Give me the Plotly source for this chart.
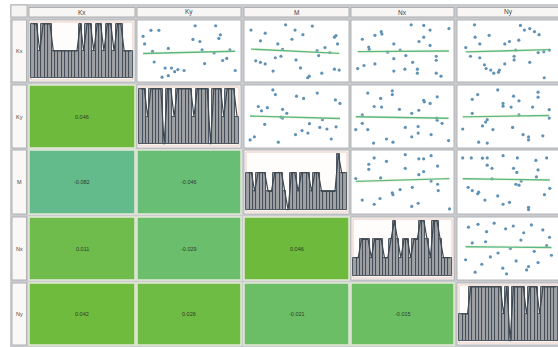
import numpy as np
import plotly.graph_objects as go
from plotly.colors import sample_colorscale

W, H = 558, 347

VARS = ["Kx", "Ky", "M", "Nx", "Ny"]

# histogram counts per bin (30 bins) for each variable
HIST_KX = [2, 2, 1, 2, 2, 2, 1, 1, 1, 1, 1, 1, 1, 1, 2, 1, 2, 2, 1, 2, 2, 1, 2, 2, 1, 2, 2, 1, 1, 1]
HIST_KY = [2, 2, 1, 2, 2, 2, 2, 0, 2, 2, 1, 2, 2, 2, 2, 2, 1, 2, 2, 2, 2, 0, 2, 2, 2, 1, 2, 2, 2, 1]
HIST_M = [2, 2, 1, 2, 2, 2, 1, 1, 2, 2, 2, 1, 0, 2, 2, 1, 2, 2, 2, 1, 2, 2, 1, 1, 1, 1, 1, 3, 2, 2]
HIST_NX = [1, 1, 2, 2, 2, 1, 2, 2, 2, 1, 1, 2, 3, 2, 1, 2, 2, 1, 2, 2, 3, 3, 2, 1, 3, 3, 2, 1, 1, 1]
HIST_NY = [1, 1, 1, 2, 2, 2, 2, 2, 2, 2, 2, 2, 2, 1, 2, 0, 2, 2, 2, 2, 1, 2, 2, 2, 1, 2, 2, 2, 2, 2]

# pairwise correlations (lower triangle)
CORR_KY_KX = 0.046
CORR_M_KX = -0.082
CORR_M_KY = -0.046
CORR_NX_KX = 0.011
CORR_NX_KY = -0.029
CORR_NX_M = 0.046
CORR_NY_KX = 0.042
CORR_NY_KY = 0.026
CORR_NY_M = -0.021
CORR_NY_NX = -0.015

# scatter samples (scaled 0..1) for upper panels: row variable vs column variable
KX_KY_X = [0.023, 0.105, 0.187, 0.039, 0.285, 0.138, 0.252, 0.318, 0.351, 0.384, 0.449, 0.285, 0.220, 0.564,
           0.541, 0.613, 0.636, 0.662, 0.777, 0.826, 0.810, 0.761, 0.849, 0.892, 0.980, 0.925, 0.121]
KX_KY_Y = [0.765, 0.874, 0.874, 0.628, 0.546, 0.301, 0.191, 0.191, 0.126, 0.164, 0.148, 0.055, 0.027, 0.956,
           0.710, 0.672, 0.519, 0.273, 0.956, 0.792, 0.727, 0.464, 0.328, 0.366, 0.148, 0.519, 0.492]

KX_M_X = [0.032, 0.178, 0.129, 0.081, 0.129, 0.178, 0.308, 0.388, 0.485, 0.566, 0.663, 0.453, 0.356, 0.282, 0.340,
          0.495, 0.541, 0.631, 0.615, 0.760, 0.259, 0.712, 0.728, 0.793, 0.842, 0.890, 0.906, 0.922, 0.890, 0.939]
KX_M_Y = [0.878, 0.822, 0.683, 0.322, 0.295, 0.267, 0.628, 0.972, 0.878, 0.795, 0.950, 0.712, 0.528, 0.378, 0.405,
          0.338, 0.195, 0.045, 0.017, 0.100, 0.138, 0.505, 0.417, 0.562, 0.472, 0.750, 0.778, 0.628, 0.172, 0.155]

KX_NX_X = [0.079, 0.211, 0.277, 0.284, 0.146, 0.151, 0.344, 0.409, 0.475, 0.591, 0.723, 0.789, 0.987, 0.723, 0.673,
           0.789, 0.535, 0.409, 0.854, 0.854, 0.607, 0.030, 0.096, 0.211, 0.409, 0.525, 0.656, 0.656, 0.854, 0.904]
KX_NX_Y = [0.712, 0.783, 0.850, 0.805, 0.572, 0.528, 0.478, 0.628, 0.517, 0.972, 0.962, 0.878, 0.905, 0.750, 0.672,
           0.600, 0.417, 0.362, 0.405, 0.333, 0.295, 0.183, 0.238, 0.267, 0.138, 0.172, 0.172, 0.100, 0.100, 0.045]

KX_NY_X = [0.144, 0.052, 0.150, 0.199, 0.297, 0.101, 0.199, 0.248, 0.265, 0.314, 0.346, 0.405, 0.395, 0.461, 0.559,
           0.559, 0.461, 0.510, 0.608, 0.625, 0.667, 0.723, 0.772, 0.821, 0.723, 0.811, 0.870, 0.875, 0.928, 0.575]
KX_NY_Y = [0.972, 0.562, 0.750, 0.628, 0.783, 0.405, 0.378, 0.250, 0.183, 0.155, 0.100, 0.155, 0.117, 0.267, 0.405,
           0.338, 0.628, 0.672, 0.695, 0.962, 0.878, 0.905, 0.850, 0.795, 0.295, 0.472, 0.488, 0.017, 0.517, 0.517]

KY_M_X = [0.257, 0.283, 0.500, 0.573, 0.713, 0.900, 0.947, 0.107, 0.140, 0.200, 0.357, 0.400, 0.173, 0.357,
          0.633, 0.740, 0.813, 0.907, 0.490, 0.557, 0.617, 0.023, 0.067, 0.313, 0.857, 0.767, 0.340]
KY_M_Y = [0.972, 0.889, 0.861, 0.822, 0.917, 0.794, 0.733, 0.678, 0.600, 0.656, 0.628, 0.556, 0.361, 0.472,
          0.372, 0.306, 0.278, 0.317, 0.178, 0.250, 0.206, 0.083, 0.139, 0.044, 0.100, 0.444, 0.489]

KY_NX_X = [0.136, 0.271, 0.393, 0.393, 0.203, 0.281, 0.722, 0.729, 0.790, 0.864, 0.468, 0.597, 0.671, 0.078, 0.078,
           0.010, 0.136, 0.332, 0.400, 0.529, 0.664, 0.664, 0.597, 0.800, 0.858, 0.864, 0.915, 0.983, 0.197]
KY_NX_Y = [0.917, 0.822, 0.956, 0.889, 0.678, 0.667, 0.789, 0.761, 0.733, 0.850, 0.628, 0.556, 0.611, 0.528, 0.378,
           0.267, 0.267, 0.100, 0.044, 0.306, 0.322, 0.206, 0.139, 0.178, 0.472, 0.433, 0.378, 0.072, 0.028]

KY_NY_X = [0.177, 0.120, 0.387, 0.553, 0.610, 0.810, 0.810, 0.443, 0.443, 0.527, 0.753, 0.927, 0.120, 0.277,
           0.260, 0.227, 0.337, 0.610, 0.543, 0.020, 0.653, 0.710, 0.710, 0.860, 0.187, 0.277, 0.927]
KY_NY_Y = [0.889, 0.806, 0.972, 0.861, 0.778, 0.933, 0.844, 0.733, 0.683, 0.667, 0.667, 0.622, 0.556, 0.444,
           0.400, 0.333, 0.267, 0.528, 0.306, 0.278, 0.178, 0.139, 0.083, 0.156, 0.044, 0.028, 0.472]

M_NX_X = [0.203, 0.332, 0.529, 0.671, 0.722, 0.800, 0.146, 0.146, 0.529, 0.722, 0.868, 0.010, 0.271, 0.671,
          0.800, 0.868, 0.603, 0.475, 0.393, 0.400, 0.078, 0.203, 0.264, 0.597, 0.664, 0.993, 0.875]
M_NX_Y = [0.922, 0.861, 0.978, 0.906, 0.906, 0.961, 0.811, 0.722, 0.739, 0.683, 0.778, 0.561, 0.572, 0.628,
          0.517, 0.461, 0.406, 0.367, 0.311, 0.278, 0.183, 0.111, 0.211, 0.072, 0.128, 0.028, 0.350]

M_NY_X = [0.020, 0.110, 0.227, 0.277, 0.443, 0.593, 0.787, 0.900, 0.277, 0.327, 0.553, 0.587, 0.810, 0.327, 0.793,
          0.633, 0.577, 0.610, 0.077, 0.120, 0.177, 0.187, 0.253, 0.387, 0.443, 0.510, 0.710, 0.710, 0.933, 0.877]
M_NY_Y = [0.922, 0.922, 0.917, 0.922, 0.961, 0.922, 0.878, 0.922, 0.794, 0.739, 0.739, 0.667, 0.711, 0.556, 0.589,
          0.517, 0.461, 0.444, 0.406, 0.350, 0.294, 0.322, 0.183, 0.256, 0.111, 0.144, 0.056, 0.017, 0.389, 0.278]

NX_NY_X = [0.08, 0.18, 0.27, 0.35, 0.47, 0.55, 0.66, 0.74, 0.86, 0.93, 0.05, 0.22, 0.31, 0.44, 0.58, 0.69, 0.81,
           0.95, 0.12, 0.26, 0.39, 0.52, 0.63, 0.77, 0.90, 0.15, 0.48, 0.71]
NX_NY_Y = [0.88, 0.93, 0.80, 0.95, 0.85, 0.90, 0.78, 0.92, 0.83, 0.70, 0.30, 0.22, 0.35, 0.15, 0.28, 0.12, 0.25,
           0.38, 0.60, 0.62, 0.42, 0.50, 0.65, 0.45, 0.55, 0.08, 0.05, 0.18]

HISTS = [HIST_KX, HIST_KY, HIST_M, HIST_NX, HIST_NY]
CORR = {
    (1, 0): CORR_KY_KX, (2, 0): CORR_M_KX, (2, 1): CORR_M_KY,
    (3, 0): CORR_NX_KX, (3, 1): CORR_NX_KY, (3, 2): CORR_NX_M,
    (4, 0): CORR_NY_KX, (4, 1): CORR_NY_KY, (4, 2): CORR_NY_M, (4, 3): CORR_NY_NX,
}
SCATTER = {
    (0, 1): (KX_KY_X, KX_KY_Y), (0, 2): (KX_M_X, KX_M_Y), (0, 3): (KX_NX_X, KX_NX_Y), (0, 4): (KX_NY_X, KX_NY_Y),
    (1, 2): (KY_M_X, KY_M_Y), (1, 3): (KY_NX_X, KY_NX_Y), (1, 4): (KY_NY_X, KY_NY_Y),
    (2, 3): (M_NX_X, M_NX_Y), (2, 4): (M_NY_X, M_NY_Y),
    (3, 4): (NX_NY_X, NX_NY_Y),
}

# cell geometry in pixels
COLS = [(29, 135), (137, 241), (244, 349), (351, 454), (457, 560)]
ROWS = [(20, 82), (85, 148), (150, 214), (217, 280), (283, 345)]

CORR_SCALE = [
    [0.00, "#5eb89e"], [0.10, "#64bb8a"], [0.30, "#6abe72"], [0.425, "#6cbe62"],
    [0.50, "#6ebd55"], [0.60, "#70bc46"], [0.75, "#6dba3a"], [1.00, "#66b630"],
]
CMIN, CMAX = -0.1, 0.1


def px(x):
    return x / W


def py(y):
    return 1 - y / H


fig = go.Figure()
shapes = []
annotations = []


def rect(x0, y0, x1, y1, fill, line="rgba(0,0,0,0)", lw=1):
    shapes.append(dict(type="rect", xref="paper", yref="paper", layer="below",
                       x0=px(x0), x1=px(x1), y0=py(y1), y1=py(y0),
                       fillcolor=fill, line=dict(color=line, width=lw)))


def text(x, y, s, size, color="#3a3a3a"):
    annotations.append(dict(xref="paper", yref="paper", x=px(x), y=py(y), text=s, showarrow=False,
                            font=dict(size=size, color=color, family="Liberation Sans, Arial, sans-serif"),
                            xanchor="center", yanchor="middle"))


# grey frame behind the whole matrix
rect(10, 4, 560, 349, "#c9cbce")
# corner cell and header cells
rect(11, 5, 27, 17, "#f6f4f2", "#b4b6b8")
for j, (x0, x1) in enumerate(COLS):
    rect(x0, 7.5, x1, 17, "#f8f6f4", "#aeb0b2")
    text((x0 + x1) / 2, 12.5, VARS[j], 6.5, "#404448")
for i, (y0, y1) in enumerate(ROWS):
    rect(12, y0, 26.5, y1, "#faf8f6", "#b0b2b4")
    text(19.2, (y0 + y1) / 2, VARS[i], 5.5, "#404448")

axis_n = 0


def add_axes(i, j, xr, yr):
    global axis_n
    axis_n += 1
    n = axis_n
    sfx = "" if n == 1 else str(n)
    x0, x1 = COLS[j]
    y0, y1 = ROWS[i]
    full = x1 - x0
    d1 = min(x1, W)
    span = xr[1] - xr[0]
    xr_vis = [xr[0], xr[0] + span * (d1 - x0) / full]
    fig.layout["xaxis" + sfx] = dict(domain=[px(x0), px(d1)], range=xr_vis, visible=False,
                                     anchor="y" + sfx, fixedrange=True)
    fig.layout["yaxis" + sfx] = dict(domain=[py(y1), py(y0)], range=yr, visible=False,
                                     anchor="x" + sfx, fixedrange=True)
    return "x" + sfx, "y" + sfx


for i in range(5):
    for j in range(5):
        x0, x1 = COLS[j]
        y0, y1 = ROWS[i]
        if i > j:
            r = CORR[(i, j)]
            col = sample_colorscale(CORR_SCALE, [(r - CMIN) / (CMAX - CMIN)])[0]
            rect(x0, y0, x1, y1, col, "#e4ead6", 1.5)
            text((x0 + x1) / 2, (y0 + y1) / 2, f"{r:.3f}", 5.5, "#2e3a2a")
        elif i == j:
            rect(x0, y0, x1, y1, "#ffffff", "#b2b4b6", 1)
            rect(x0 + 2, y0 + 2, x1 - 2, y1 - 2, "#fffdfc", "#ebc9bd", 1)
            counts = HISTS[i]
            nb = len(counts)
            top = max(counts)
            xa, ya = add_axes(i, j, [-1.2, nb + 0.2], [-0.07 * top, top * 1.07])
            centers = list(range(nb))
            fig.add_trace(go.Bar(x=centers, y=counts, width=1.0, xaxis=xa, yaxis=ya,
                                 marker=dict(color="#9fa1a4", line=dict(color="#3d4852", width=0.9)),
                                 showlegend=False, hoverinfo="skip"))
            fig.add_trace(go.Scatter(x=centers, y=counts, mode="lines", xaxis=xa, yaxis=ya,
                                     line=dict(color="#3d4852", width=1.2),
                                     showlegend=False, hoverinfo="skip"))
        else:
            rect(x0, y0, x1, y1, "#ffffff", "#b2b4b6", 1)
            xs, ys = SCATTER[(i, j)]
            xs_a, ys_a = np.array(xs), np.array(ys)
            xa, ya = add_axes(i, j, [-0.04, 1.04], [-0.06, 1.06])
            fig.add_trace(go.Scatter(x=xs, y=ys, mode="markers", xaxis=xa, yaxis=ya,
                                     marker=dict(size=3.2, color="#5f92b4", line=dict(width=0)),
                                     showlegend=False, hoverinfo="skip"))
            # least-squares line using the reported correlation
            r = CORR[(j, i)]
            slope = r * ys_a.std() / xs_a.std()
            lx = np.array([xs_a.min(), xs_a.max()])
            ly = ys_a.mean() + slope * (lx - xs_a.mean())
            fig.add_trace(go.Scatter(x=lx, y=ly, mode="lines", xaxis=xa, yaxis=ya,
                                     line=dict(color="#eeeaa8", width=3), opacity=0.4,
                                     showlegend=False, hoverinfo="skip"))
            fig.add_trace(go.Scatter(x=lx, y=ly, mode="lines", xaxis=xa, yaxis=ya,
                                     line=dict(color="#58b98c", width=1.4),
                                     showlegend=False, hoverinfo="skip"))

fig.update_layout(
    width=W, height=H,
    margin=dict(l=0, r=0, t=0, b=0),
    paper_bgcolor="#ffffff",
    plot_bgcolor="rgba(0,0,0,0)",
    bargap=0,
    shapes=shapes,
    annotations=annotations,
)

fig.write_html("out.html", config={"displayModeBar": False})
